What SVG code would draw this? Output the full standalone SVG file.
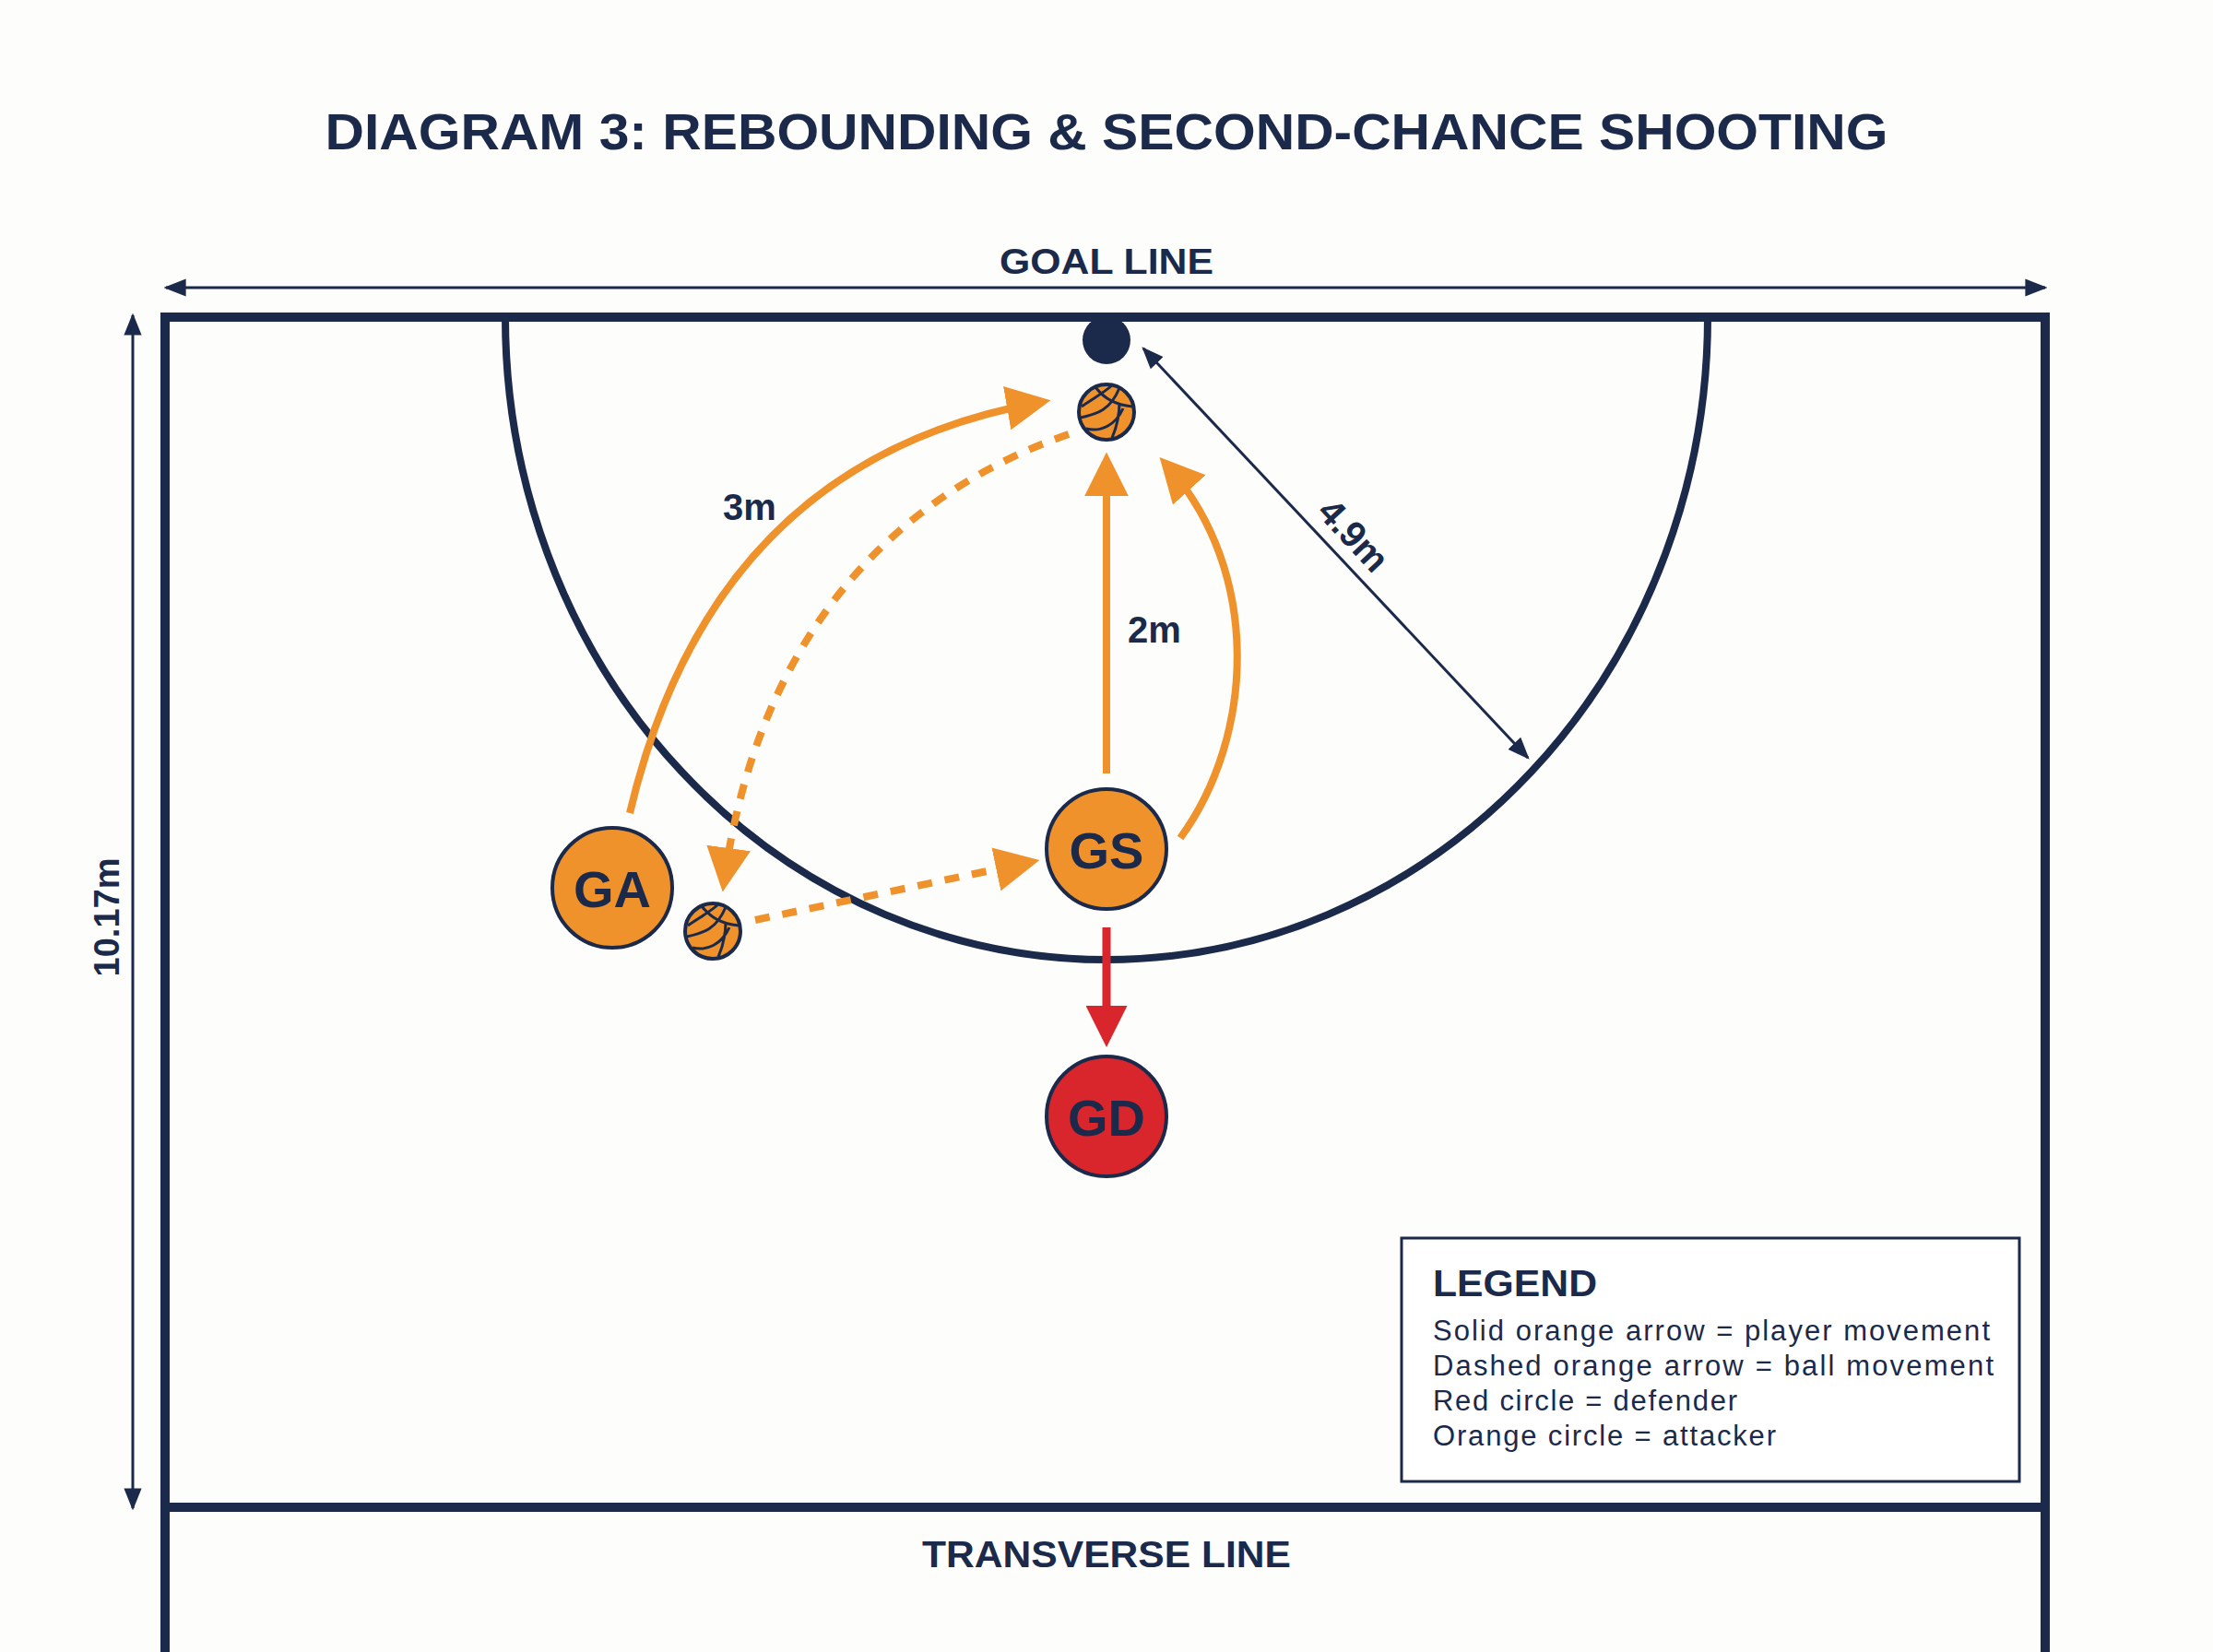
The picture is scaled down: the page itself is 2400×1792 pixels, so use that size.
<svg xmlns="http://www.w3.org/2000/svg" width="2400" height="1792" viewBox="0 0 2400 1792">
<defs>
<style>
.nv{fill:none;stroke:#1b2a4a}
.t{font-family:"Liberation Sans",Arial,sans-serif;font-weight:bold;fill:#1b2a4a}
.or{fill:none;stroke:#f0922b;stroke-width:8}
.ds{stroke-dasharray:16 14}
.pl{stroke:#1b2a4a;stroke-width:4}
</style>
<marker id="ao" viewBox="0 0 10 10" refX="8" refY="5" markerWidth="6" markerHeight="6" orient="auto" markerUnits="strokeWidth"><path d="M0,0L10,5L0,10z" fill="#f0922b"/></marker>
<marker id="ar" viewBox="0 0 10 10" refX="8" refY="5" markerWidth="6" markerHeight="5" orient="auto" markerUnits="strokeWidth"><path d="M0,0L10,5L0,10z" fill="#d9262c"/></marker>
<marker id="an" viewBox="0 0 10 10" refX="9" refY="5" markerWidth="8" markerHeight="8" orient="auto-start-reverse" markerUnits="strokeWidth"><path d="M0,1L10,5L0,9z" fill="#1b2a4a"/></marker>
<g id="ball"><circle r="30" fill="#f0922b" stroke="#1b2a4a" stroke-width="4"/><path d="M-12,-27C-2,-14 10,-8 28,-6M-27,-6C-16,-14 -4,-20 6,-29M-28,6C-10,2 4,-2 14,-26M-22,18C-6,22 10,14 18,-4M6,28C12,14 14,0 14,-10" fill="none" stroke="#1b2a4a" stroke-width="3"/></g>
</defs>
<rect width="2400" height="1792" fill="#fdfdfb"/>
<text class="t" x="1200" y="162" font-size="56" text-anchor="middle" textLength="1695" lengthAdjust="spacingAndGlyphs">DIAGRAM 3: REBOUNDING &amp; SECOND-CHANCE SHOOTING</text>
<g id="court">
<path class="nv" stroke-width="10" d="M179,1792V344H2218V1792M179,1635H2218"/>
<path class="nv" stroke-width="8" d="M548,344A652,697 0 0 0 1852,344"/>
<circle cx="1200" cy="369" r="26" fill="#1b2a4a"/>
</g>
<g id="dims">
<line class="nv" stroke-width="3" x1="180" y1="312" x2="2218" y2="312" marker-start="url(#an)" marker-end="url(#an)"/>
<text class="t" x="1200" y="297" font-size="38" text-anchor="middle" textLength="232" lengthAdjust="spacingAndGlyphs">GOAL LINE</text>
<line class="nv" stroke-width="3" x1="144" y1="342" x2="144" y2="1636" marker-start="url(#an)" marker-end="url(#an)"/>
<text class="t" x="0" y="0" font-size="38" text-anchor="middle" transform="translate(129,995) rotate(-90)">10.17m</text>
<text class="t" x="1200" y="1700" font-size="40" text-anchor="middle" textLength="400" lengthAdjust="spacingAndGlyphs">TRANSVERSE LINE</text>
</g>
<g id="connectors">
<path class="or" d="M683,882C740,640 880,480 1130,436" marker-end="url(#ao)"/>
<path class="or ds" d="M1159,471C960,540 820,700 785,958" marker-end="url(#ao)"/>
<path class="or ds" d="M819,998L1118,935" marker-end="url(#ao)"/>
<line class="or" x1="1200" y1="839" x2="1200" y2="500" marker-end="url(#ao)"/>
<path class="or" d="M1280,909C1360,800 1370,620 1264,503" marker-end="url(#ao)"/>
<line x1="1200" y1="1006" x2="1200" y2="1127" stroke="#d9262c" stroke-width="9" marker-end="url(#ar)"/>
<line class="nv" stroke-width="3" x1="1240" y1="378" x2="1657" y2="822" marker-start="url(#an)" marker-end="url(#an)"/>
<text class="t" x="0" y="0" font-size="40" text-anchor="middle" transform="translate(1458,590) rotate(47)">4.9m</text>
<text class="t" x="813" y="564" font-size="40" text-anchor="middle">3m</text>
<text class="t" x="1252" y="697" font-size="40" text-anchor="middle">2m</text>
</g>
<g id="ball1"><use href="#ball" x="1200" y="447"/></g>
<g id="ball2"><use href="#ball" x="773" y="1010"/></g>
<g id="GA"><circle cx="664" cy="963" r="65" fill="#f0922b" class="pl"/><text class="t" x="664" y="984" font-size="56" text-anchor="middle">GA</text></g>
<g id="GS"><circle cx="1200" cy="921" r="65" fill="#f0922b" class="pl"/><text class="t" x="1200" y="942" font-size="56" text-anchor="middle">GS</text></g>
<g id="GD"><circle cx="1200" cy="1211" r="65" fill="#d9262c" class="pl"/><text class="t" x="1200" y="1232" font-size="56" text-anchor="middle">GD</text></g>
<g id="legend">
<rect x="1520" y="1343" width="670" height="264" fill="#fff" stroke="#1b2a4a" stroke-width="3"/>
<text class="t" x="1554" y="1406" font-size="40" textLength="178" lengthAdjust="spacingAndGlyphs">LEGEND</text>
<g font-family="'Liberation Sans',Arial,sans-serif" font-size="31" fill="#1b2a4a" lengthAdjust="spacingAndGlyphs">
<text x="1554" y="1454" textLength="604">Solid orange arrow = player movement</text>
<text x="1554" y="1492" textLength="608">Dashed orange arrow = ball movement</text>
<text x="1554" y="1530" textLength="330">Red circle = defender</text>
<text x="1554" y="1568" textLength="372">Orange circle = attacker</text>
</g>
</g>
</svg>
